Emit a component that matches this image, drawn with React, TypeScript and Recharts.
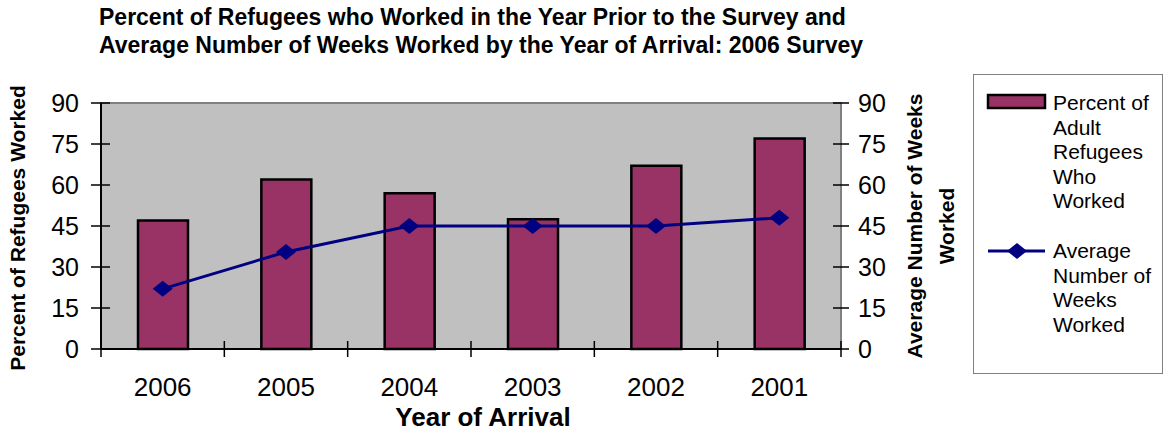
import { Bar, ComposedChart, Label, Line, ReferenceArea, XAxis, YAxis } from 'recharts'

const years = ['2006', '2005', '2004', '2003', '2002', '2001']
const percentWorked = [47, 62, 57, 47.5, 67, 77]
const avgWeeks = [22, 35.5, 45, 45, 45, 48]
const yTicks = [0, 15, 30, 45, 60, 75, 90]

const titleLines = [
  'Percent of Refugees who Worked in the Year Prior to the Survey and',
  'Average Number of Weeks Worked by the Year of Arrival: 2006 Survey',
]
const barLegend = ['Percent of', 'Adult', 'Refugees', 'Who', 'Worked']
const lineLegend = ['Average', 'Number of', 'Weeks', 'Worked']

const FONT = '"Liberation Sans", Arial, sans-serif'
const BAR_COLOR = '#993366'
const LINE_COLOR = '#000080'
const BAND = 740 / years.length

const data = years.map((year, i) => ({
  year,
  percent: percentWorked[i],
  weeks: avgWeeks[i],
}))

function Diamond({ cx, cy }: { cx?: number; cy?: number }) {
  if (cx == null || cy == null) return null
  return <polygon points={`${cx - 10},${cy} ${cx},${cy - 8} ${cx + 10},${cy} ${cx},${cy + 8}`} fill={LINE_COLOR} />
}

function XTick({ x, y, payload, index }: any) {
  const last = index === years.length - 1
  return (
    <g>
      <line x1={x - BAND / 2} x2={x - BAND / 2} y1={y - 8} y2={y + 8} stroke="#000" strokeWidth={1.5} />
      {last && <line x1={x + BAND / 2} x2={x + BAND / 2} y1={y - 8} y2={y + 8} stroke="#000" strokeWidth={1.5} />}
      <text x={x} y={y + 47} textAnchor="middle" fontSize={26} fontFamily={FONT} fill="#000">{payload.value}</text>
    </g>
  )
}

function LeftTick({ x, y, payload }: any) {
  return (
    <g>
      <line x1={x - 10} x2={x + 9} y1={y} y2={y} stroke="#000" strokeWidth={1.5} />
      <text x={x - 22} y={y} dy="0.35em" textAnchor="end" fontSize={25} fontFamily={FONT} fill="#000">{payload.value}</text>
    </g>
  )
}

function RightTick({ x, y, payload }: any) {
  return (
    <g>
      <line x1={x - 8} x2={x + 8} y1={y} y2={y} stroke="#000" strokeWidth={1.5} />
      <text x={x + 17} y={y} dy="0.35em" textAnchor="start" fontSize={25} fontFamily={FONT} fill="#000">{payload.value}</text>
    </g>
  )
}

export default function App() {
  return (
    <div style={{ position: 'absolute', left: 0, top: 0, width: 1170, height: 434, background: '#fff', fontFamily: FONT }}>
      <div style={{ position: 'absolute', left: 99, top: 3, fontSize: 23, lineHeight: '28px', fontWeight: 700, whiteSpace: 'nowrap' }}>
        {titleLines.map((t) => <div key={t}>{t}</div>)}
      </div>

      <ComposedChart width={1170} height={434} data={data} margin={{ top: 103, right: 0, bottom: 0, left: 0 }}>
        <ReferenceArea yAxisId="left" y1={0} y2={90} fill="#C0C0C0" fillOpacity={1} stroke="#808080" strokeWidth={2} />
        <XAxis
          dataKey="year"
          height={85}
          tickLine={false}
          tickSize={0}
          tickMargin={0}
          interval={0}
          axisLine={{ stroke: '#000', strokeWidth: 2 }}
          tick={<XTick />}
        >
          <Label
            content={() => (
              <text x={483} y={426} textAnchor="middle" fontSize={26} fontWeight={700} fontFamily={FONT} fill="#000">Year of Arrival</text>
            )}
          />
        </XAxis>
        <YAxis
          yAxisId="left"
          width={101}
          domain={[0, 90]}
          ticks={yTicks}
          tickLine={false}
          tickSize={0}
          tickMargin={0}
          axisLine={{ stroke: '#000', strokeWidth: 2 }}
          tick={<LeftTick />}
        >
          <Label
            content={() => (
              <text x={25} y={228} transform="rotate(-90 25 228)" textAnchor="middle" fontSize={21} fontWeight={700} fontFamily={FONT} fill="#000">
                Percent of Refugees Worked
              </text>
            )}
          />
        </YAxis>
        <YAxis
          yAxisId="right"
          orientation="right"
          width={329}
          domain={[0, 90]}
          ticks={yTicks}
          tickLine={false}
          tickSize={0}
          tickMargin={0}
          axisLine={{ stroke: '#808080', strokeWidth: 2 }}
          tick={<RightTick />}
        >
          <Label
            content={() => (
              <g transform="rotate(-90 930 226)">
                <text x={930} y={226} textAnchor="middle" fontSize={21} fontWeight={700} fontFamily={FONT} fill="#000">
                  <tspan x={930} dy={-8}>Average Number of Weeks</tspan>
                  <tspan x={930} dy={32}>Worked</tspan>
                </text>
              </g>
            )}
          />
        </YAxis>
        <Bar yAxisId="left" dataKey="percent" barSize={50} fill={BAR_COLOR} stroke="#000" strokeWidth={2.5} isAnimationActive={false} />
        <Line
          yAxisId="right"
          type="linear"
          dataKey="weeks"
          stroke={LINE_COLOR}
          strokeWidth={3}
          dot={<Diamond />}
          activeDot={false}
          isAnimationActive={false}
        />
      </ComposedChart>

      <div style={{ position: 'absolute', left: 973, top: 74, width: 190, height: 300, border: '1.5px solid #808080', boxSizing: 'border-box' }}>
        <svg width={190} height={300}>
          <rect x={14} y={20} width={57} height={13} fill={BAR_COLOR} stroke="#000" strokeWidth={2.5} />
          <text fontSize={21} fontFamily={FONT} fill="#000">
            {barLegend.map((t, i) => (
              <tspan key={t} x={79} y={28 + i * 24.5} dy="0.35em">{t}</tspan>
            ))}
          </text>
          <line x1={14} x2={71} y1={176} y2={176} stroke={LINE_COLOR} strokeWidth={3} />
          <polygon points="33,176 43,168 53,176 43,184" fill={LINE_COLOR} />
          <text fontSize={21} fontFamily={FONT} fill="#000">
            {lineLegend.map((t, i) => (
              <tspan key={t} x={79} y={176 + i * 24.5} dy="0.35em">{t}</tspan>
            ))}
          </text>
        </svg>
      </div>
    </div>
  )
}
